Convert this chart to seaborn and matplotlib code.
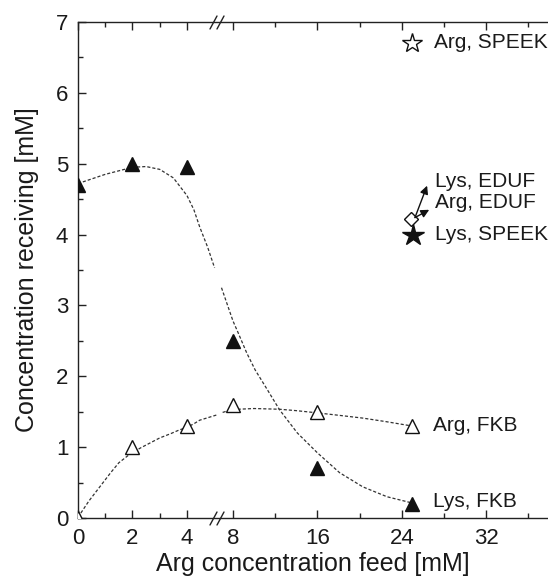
import numpy as np
import pandas as pd
import matplotlib
matplotlib.use("Agg")
import matplotlib.pyplot as plt
import seaborn as sns

# ---------------- data ----------------
feed = [0, 2, 4, 8, 16, 25]
lys_fkb = [4.7, 5.0, 4.95, 2.5, 0.7, 0.2]
arg_fkb = [0.0, 1.0, 1.3, 1.6, 1.5, 1.3]

# fitted guide curves, split at the axis break
lys_fit_left_x = [0.0, 1.0, 2.0, 2.5, 3.0, 3.5, 4.0, 4.6, 5.1, 5.8, 6.4]
lys_fit_left_y = [4.72, 4.85, 4.95, 4.96, 4.92, 4.80, 4.55, 4.35, 4.11, 3.82, 3.53]
lys_fit_right_x = [7.0, 8.0, 8.5, 9.3, 10.1, 11.3, 12.4, 14.1, 16.0, 18.1, 20.3, 22.6, 24.5, 25.0]
lys_fit_right_y = [3.25, 2.78, 2.61, 2.33, 2.09, 1.80, 1.53, 1.20, 0.92, 0.64, 0.44, 0.30, 0.23, 0.21]

arg_fit_left_x = [0.0, 0.4, 0.8, 1.2, 1.5, 1.9, 2.3, 2.7, 3.0, 3.4, 3.7, 4.0, 4.6, 5.1, 5.9, 6.7]
arg_fit_left_y = [0.01, 0.24, 0.44, 0.64, 0.78, 0.90, 0.99, 1.07, 1.13, 1.19, 1.24, 1.28, 1.33, 1.38, 1.42, 1.46]
arg_fit_right_x = [7.1, 7.7, 8.5, 10.0, 12.4, 14.0, 15.6, 18.0, 20.3, 22.5, 24.5, 25.0]
arg_fit_right_y = [1.49, 1.52, 1.535, 1.545, 1.535, 1.515, 1.49, 1.45, 1.41, 1.36, 1.31, 1.30]

arg_speek = (25.0, 6.71)
lys_speek = (25.05, 4.0)
arg_eduf = (24.9, 4.22)
lys_eduf_arrow = (26.4, 4.69)
arg_eduf_arrow = (26.6, 4.35)

labels = ["Arg, SPEEK", "Lys, EDUF", "Arg, EDUF", "Lys, SPEEK", "Arg, FKB", "Lys, FKB"]
label_y = [6.71, 4.75, 4.45, 4.0, 1.30, 0.23]
label_x = [27.05, 27.15, 27.15, 27.15, 26.95, 26.95]

xticks = [0, 2, 4, 8, 16, 24, 32]
xminor = [1, 3, 12, 20, 28, 36]

# ---------------- style ----------------
sns.set_theme(style="ticks")
plt.rcParams['font.family'] = ['Liberation Sans', 'DejaVu Sans']
plt.rcParams['axes.linewidth'] = 1.0

fig = plt.figure(figsize=(5.48, 5.77), dpi=100)
ax = fig.add_axes([78/548, 59/577, 470/548, 496/577])

# broken-axis scale (piecewise linear)
_nx = np.array([-10.0, 0.0, 4.0, 8.0, 100.0])
_nu = np.array([-272.5, 0.0, 109.0, 155.0, 155.0 + 92 * 10.55])
def fwd(x):
    return np.interp(x, _nx, _nu)
def inv(u):
    return np.interp(u, _nu, _nx)
ax.set_xscale('function', functions=(fwd, inv))

lc = '#333333'
ls = (0, (2.5, 1.6))
for xs, ys in [(lys_fit_left_x, lys_fit_left_y), (lys_fit_right_x, lys_fit_right_y),
               (arg_fit_left_x, arg_fit_left_y), (arg_fit_right_x, arg_fit_right_y)]:
    sns.lineplot(x=xs, y=ys, ax=ax, sort=False, color=lc, lw=0.9, linestyle=ls, estimator=None)

ax.plot(feed, lys_fkb, linestyle='none', marker='^', ms=10, mfc='#111111', mec='#111111', zorder=5)
ax.plot(feed, arg_fkb, linestyle='none', marker='^', ms=10, mfc='white', mec='#111111', mew=1.0, zorder=5)

ax.plot([arg_speek[0]], [arg_speek[1]], linestyle='none', marker='*', ms=15, mfc='white', mec='#111111', mew=1.0, zorder=5)
ax.plot([lys_speek[0]], [lys_speek[1]], linestyle='none', marker='*', ms=16, mfc='#111111', mec='#111111', zorder=5)
ax.plot([arg_eduf[0]], [arg_eduf[1]], linestyle='none', marker='D', ms=7, mfc='white', mec='#111111', mew=1.0, zorder=5)
for end in [lys_eduf_arrow, arg_eduf_arrow]:
    ax.annotate('', xy=end, xytext=(25.25, 4.24),
                arrowprops=dict(arrowstyle='-|>', color='#111111', lw=1.0, mutation_scale=12,
                                shrinkA=0, shrinkB=0), zorder=6)

for t, xx, yy in zip(labels, label_x, label_y):
    ax.text(xx, yy, t, fontsize=15, ha='left', va='center', color='#1a1a1a')

ax.set_xlim(0, 37.86)
ax.set_ylim(0, 7)
ax.set_xticks(xticks)
ax.set_xticklabels([str(v) for v in xticks])
ax.set_xticks(xminor, minor=True)
ax.set_yticks(range(0, 8))
ax.set_yticks(np.arange(0.5, 7, 1.0), minor=True)
ax.tick_params(which='both', direction='in', top=True, right=False, color='#222222')
ax.tick_params(which='major', length=6, width=1.0, labelsize=16, pad=7, labelcolor='#1a1a1a')
ax.tick_params(which='minor', length=3.5, width=1.0)
ax.spines['right'].set_visible(False)
for s in ['left', 'bottom', 'top']:
    ax.spines[s].set_color('#222222')

ax.set_xlabel('Arg concentration feed [mM]', fontsize=18, labelpad=2, color='#1a1a1a')
ax.set_ylabel('Concentration receiving [mM]', fontsize=18, labelpad=12, color='#1a1a1a')

# break marks "//" on bottom and top spines (pixel offsets around the break)
def px_to_axes(px, py):
    return ((px - 78) / 470.0, (577 - py - 59) / 496.0)
for base in (518, 22):
    for off in (0, 7):
        p0 = px_to_axes(210 + off, base + 7)
        p1 = px_to_axes(217 + off, base - 6)
        ax.plot([p0[0], p1[0]], [p0[1], p1[1]], transform=ax.transAxes, color='#222222',
                lw=1.0, clip_on=False, zorder=7)

fig.savefig('out.png', dpi=100)
